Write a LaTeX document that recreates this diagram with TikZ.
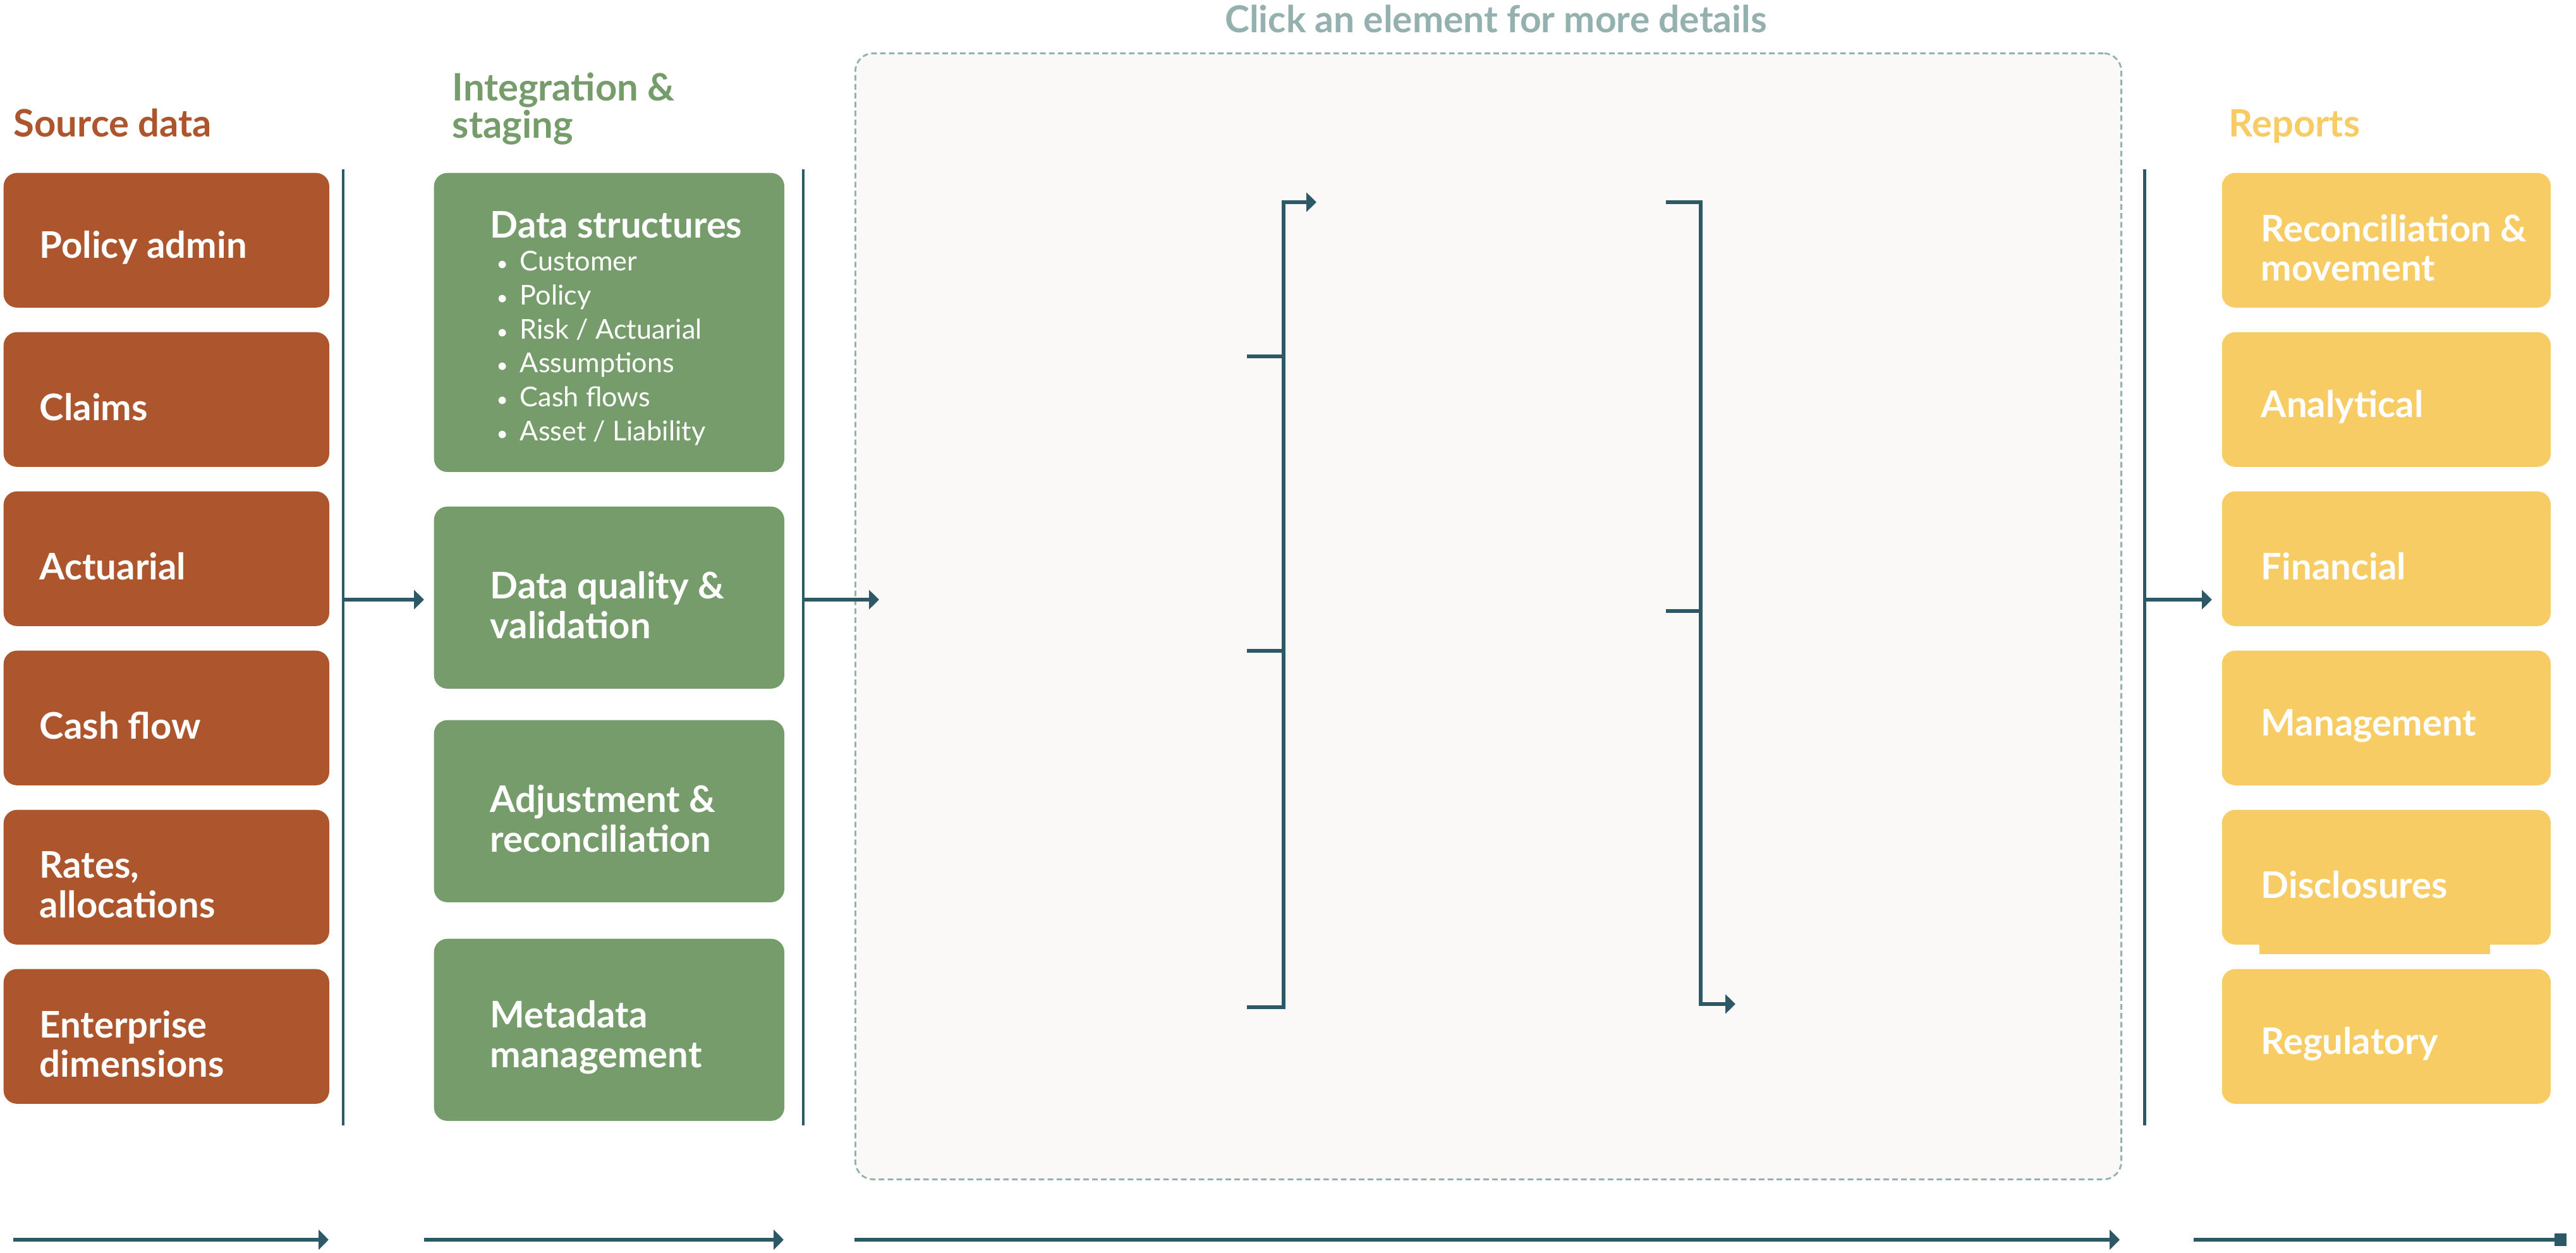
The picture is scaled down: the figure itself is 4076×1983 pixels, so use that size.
\documentclass[tikz,border=0pt]{standalone}
\usepackage{fontspec}
\setmainfont{Lato}
\usetikzlibrary{arrows.meta,positioning}
\definecolor{srcbrown}{HTML}{AD552D}
\definecolor{stggreen}{HTML}{769C6B}
\definecolor{repyellow}{HTML}{F8CC64}
\definecolor{flowteal}{HTML}{2D5967}
\definecolor{hintgrey}{HTML}{94B0AF}
\definecolor{panelfill}{HTML}{FAF9F7}
\tikzset{
  box/.style={rounded corners=6pt, anchor=north west, inner sep=0pt},
  srcbox/.style={box, fill=srcbrown, minimum width=5.15cm, minimum height=2.13cm},
  stgbox/.style={box, fill=stggreen, minimum width=5.54cm, minimum height=2.88cm},
  repbox/.style={box, fill=repyellow, minimum width=5.2cm, minimum height=2.13cm},
  boxtext/.style={text=white, font=\fontsize{16.5}{17.7}\selectfont\bfseries, align=left, inner sep=0pt},
  boxlabel/.style={boxtext, yshift=-0.12cm},
  itemtext/.style={text=white, font=\fontsize{12.3}{15.25}\selectfont, align=left, inner sep=0pt},
  heading/.style={font=\fontsize{17}{16.8}\selectfont\bfseries, align=left, inner sep=0pt},
  sepline/.style={draw=flowteal, line width=1.4pt},
  link/.style={draw=flowteal, line width=1.5pt},
  flow/.style={link, -{Triangle[length=4.5pt,width=8.5pt]}},
  timeline/.style={draw=flowteal, line width=1.6pt, -{Triangle[length=4.5pt,width=8.8pt]}},
  panel/.style={draw=hintgrey, dash pattern=on 2.5pt off 1.5pt, line width=0.8pt, fill=panelfill,
    rounded corners=8pt, anchor=north west, inner sep=0pt, minimum width=20.02cm, minimum height=17.81cm}
}
\newcommand{\bul}{\makebox[0.37cm][l]{\fontsize{9}{9}\selectfont\textbullet}}
\begin{document}
\begin{tikzpicture}[x=0.01cm,y=-0.01cm]
    \useasboundingbox (0,0) rectangle (4076,1983);

    % headings
    \node[heading, text=srcbrown, anchor=base west] (srchead) at (21,217) {Source data};
    \node[heading, text=stggreen, anchor=north west] (stghead) at (715,114) {Integration \&\\staging};
    \node[heading, text=repyellow, anchor=base west] (rephead) at (3526,217) {Reports};
    \node[heading, text=hintgrey, anchor=base, font=\fontsize{16.7}{16.8}\selectfont\bfseries] (hint) at (2367,52) {Click an element for more details};

    % dashed panel
    \node[panel] (panel) at (1352,83) {};

    % source data
    \node[srcbox] (policy) at (5,273) {};
    \node[srcbox] (claims) at (5,525) {};
    \node[srcbox] (actuarial) at (5,777) {};
    \node[srcbox] (cashflow) at (5,1029) {};
    \node[srcbox] (rates) at (5,1281) {};
    \node[srcbox] (enterprise) at (5,1533) {};
    \node[boxlabel, right=0.57cm of policy.west] (policyT) {Policy admin};
    \node[boxlabel, right=0.57cm of claims.west] (claimsT) {Claims};
    \node[boxlabel, right=0.57cm of actuarial.west] (actuarialT) {Actuarial};
    \node[boxlabel, right=0.57cm of cashflow.west] (cashflowT) {Cash flow};
    \node[boxlabel, right=0.57cm of rates.west] (ratesT) {Rates,\\allocations};
    \node[boxlabel, right=0.57cm of enterprise.west] (enterpriseT) {Enterprise\\dimensions};

    % integration & staging
    \node[stgbox, minimum height=4.73cm] (structures) at (686,273) {};
    \node[stgbox] (quality) at (686,801) {};
    \node[stgbox] (adjust) at (686,1139) {};
    \node[stgbox] (metadata) at (686,1485) {};
    \node[boxtext, anchor=west] (structuresT) at (775,356) {Data structures};
    \node[itemtext, anchor=west] (structuresL) at (785,551)
      {\bul Customer\\ \bul Policy\\ \bul Risk / Actuarial\\ \bul Assumptions\\ \bul Cash flows\\ \bul Asset / Liability};
    \node[boxlabel, right=0.89cm of quality.west] (qualityT) {Data quality \&\\validation};
    \node[boxlabel, right=0.89cm of adjust.west] (adjustT) {Adjustment \&\\reconciliation};
    \node[boxlabel, right=0.89cm of metadata.west] (metadataT) {Metadata\\management};

    % reports
    \node[repbox] (recon) at (3515,273) {};
    \node[repbox] (analytical) at (3515,525) {};
    \node[repbox] (financial) at (3515,777) {};
    \node[repbox] (management) at (3515,1029) {};
    \node[repbox] (disclosures) at (3515,1281) {};
    \node[repbox] (regulatory) at (3515,1533) {};
    \fill[repyellow] (3575,1490) rectangle (3940,1510);
    \node[boxlabel, right=0.62cm of recon.west] (reconT) {Reconciliation \&\\movement};
    \node[boxlabel, right=0.62cm of analytical.west] (analyticalT) {Analytical};
    \node[boxlabel, right=0.62cm of financial.west] (financialT) {Financial};
    \node[boxlabel, right=0.62cm of management.west] (managementT) {Management};
    \node[boxlabel, right=0.62cm of disclosures.west] (disclosuresT) {Disclosures};
    \node[boxlabel, right=0.62cm of regulatory.west] (regulatoryT) {Regulatory};

    % separators and arrows between columns
    \coordinate (midrow) at (0,949);
    \coordinate (sep1) at (543,268);
    \coordinate (sep2) at (1271,268);
    \coordinate (sep3) at (3393,268);
    \draw[sepline] (sep1) -- ++(0,1513);
    \draw[sepline] (sep2) -- ++(0,1513);
    \draw[sepline] (sep3) -- ++(0,1513);
    \draw[flow, shorten >=0.15cm] (sep1 |- midrow) -- (quality.west |- midrow);
    \draw[flow] (sep2 |- midrow) -- ([xshift=0.39cm]panel.west |- midrow);
    \draw[flow, shorten >=0.15cm] (sep3 |- midrow) -- (financial.west |- midrow);

    % brackets inside the panel
    \coordinate (lbtop) at (2031,320);
    \coordinate (lbout) at (2083,320);
    \coordinate (lbin1) at (1973,564);
    \coordinate (lbin2) at (1973,1030);
    \coordinate (lbin3) at (1973,1594);
    \draw[flow] (lbin3) -| (lbtop) -- (lbout);
    \draw[link] (lbin1) -- (lbin1 -| lbtop);
    \draw[link] (lbin2) -- (lbin2 -| lbtop);
    \coordinate (rbin1) at (2636,320);
    \coordinate (rbin2) at (2636,967);
    \coordinate (rbbot) at (2691,1589);
    \coordinate (rbout) at (2746,1589);
    \draw[flow] (rbin1) -| (rbbot) -- (rbout);
    \draw[link] (rbin2) -- (rbin2 -| rbbot);

    % bottom timeline
    \draw[timeline] (21,1962) -- (520,1962);
    \draw[timeline] (671,1962) -- (1240,1962);
    \draw[timeline] (1352,1962) -- (3354,1962);
    \draw[timeline, -{Square[length=5.5pt,width=5.5pt]}] (3471,1962) -- (4061,1962);
\end{tikzpicture}
\end{document}
